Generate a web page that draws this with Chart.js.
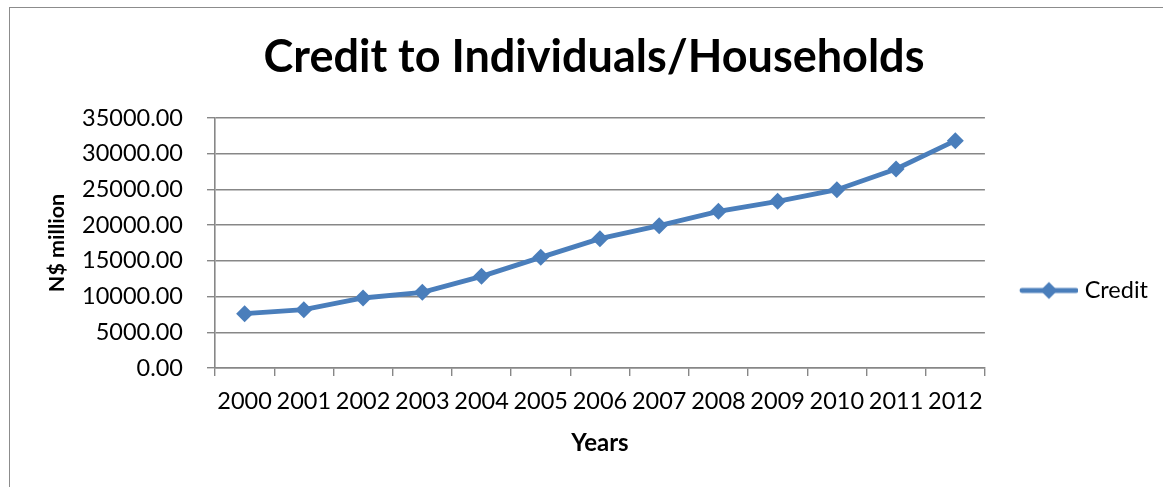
<!DOCTYPE html>
<html>
<head>
<meta charset="utf-8">
<script src="https://cdn.jsdelivr.net/npm/chart.js@4.4.1/dist/chart.umd.min.js"></script>
<style>
  html, body { margin: 0; padding: 0; background: #fff; overflow: hidden; }
  #wrap { position: relative; width: 1163px; height: 487px; }
  #frame { position: absolute; left: 9px; top: 7px; width: 2000px; height: 2000px; border: 1.5px solid #8c8c8c; pointer-events: none; }
</style>
</head>
<body>
<div id="wrap">
  <canvas id="creditChart" width="1163" height="487"></canvas>
  <div id="frame"></div>
</div>
<script>
const years = ['2000', '2001', '2002', '2003', '2004', '2005', '2006', '2007', '2008', '2009', '2010', '2011', '2012'];
const credit = [7600, 8170, 9800, 10590, 12830, 15490, 18110, 19930, 21930, 23330, 24970, 27870, 31830];
const seriesName = 'Credit';
const chartTitle = 'Credit to Individuals/Households';
const yTitle = 'N$ million';
const xTitle = 'Years';

const BLUE = '#4a7ebb';
const GRID = '#878787';
const FONT = 'Lato, "Open Sans", sans-serif';

// legend swatch: line with a diamond in the middle, left margin leaves the gap to the plot
function legendSwatch() {
    const c = document.createElement('canvas');
    c.width = 98; c.height = 20;
    const g = c.getContext('2d');
    g.strokeStyle = BLUE;
    g.lineWidth = 4.8;
    g.lineCap = 'round';
    g.beginPath(); g.moveTo(42, 10); g.lineTo(96, 10); g.stroke();
    g.fillStyle = BLUE;
    g.beginPath(); g.moveTo(69, 1.5); g.lineTo(77.5, 10); g.lineTo(69, 18.5); g.lineTo(60.5, 10); g.closePath(); g.fill();
    return c;
}
const swatch = legendSwatch();

const ctx = document.getElementById('creditChart').getContext('2d');
const chart = new Chart(ctx, {
    type: 'line',
    data: {
        labels: years,
        datasets: [{
            label: seriesName,
            data: credit,
            borderColor: BLUE,
            backgroundColor: BLUE,
            borderWidth: 4.8,
            tension: 0,
            pointStyle: 'rectRot',
            pointRadius: 8.5,
            pointHoverRadius: 8.5,
            pointBorderWidth: 0
        }]
    },
    options: {
        responsive: false,
        animation: false,
        events: [],
        layout: { padding: { left: 30, right: 5, top: 0, bottom: 0 } },
        plugins: {
            title: {
                display: true,
                text: chartTitle,
                color: '#000',
                font: { family: FONT, size: 45, weight: 'bold' },
                padding: { top: 30, bottom: 34 }
            },
            legend: {
                position: 'right',
                title: { display: true, text: ' ', font: { size: 10 }, padding: { top: 40, bottom: 42 } },
                labels: {
                    color: '#000',
                    font: { family: FONT, size: 23.5 },
                    usePointStyle: true,
                    pointStyleWidth: 88,
                    boxHeight: 20,
                    padding: 0,
                    generateLabels: (ch) => ch.data.datasets.map((ds, i) => ({
                        text: ds.label,
                        pointStyle: swatch,
                        fillStyle: BLUE,
                        strokeStyle: BLUE,
                        lineWidth: 0,
                        fontColor: '#000',
                        datasetIndex: i,
                        hidden: false
                    }))
                }
            },
            tooltip: { enabled: false }
        },
        scales: {
            x: {
                offset: true,
                afterFit: (s) => { s.height = 119; },
                grid: { drawOnChartArea: false, drawTicks: true, tickLength: 8, color: GRID, lineWidth: 1.4, offset: true },
                border: { color: GRID, width: 1.6 },
                ticks: { color: '#000', font: { family: FONT, size: 23.5 }, padding: 11, maxRotation: 0, autoSkip: false },
                title: { display: true, text: xTitle, color: '#000', font: { family: FONT, size: 24, weight: 'bold' }, padding: { top: 0, bottom: 29.6 } }
            },
            y: {
                min: 0,
                max: 35000,
                afterFit: (s) => { s.width = 185; },
                grid: { color: GRID, lineWidth: 1.4, tickLength: 8 },
                border: { color: GRID, width: 1.6 },
                ticks: {
                    stepSize: 5000,
                    color: '#000',
                    font: { family: FONT, size: 23.5 },
                    padding: 24,
                    callback: (v) => Number(v).toFixed(2)
                },
                title: { display: true, text: yTitle, color: '#000', font: { family: FONT, size: 21.5, weight: 'bold' }, padding: { top: 14, bottom: 0 } }
            }
        }
    }
});
</script>
</body>
</html>
